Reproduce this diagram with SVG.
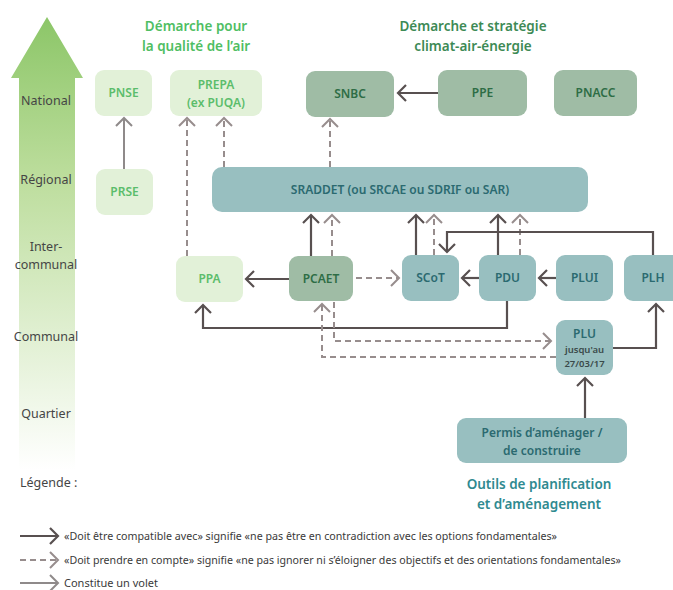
<svg xmlns="http://www.w3.org/2000/svg" width="673" height="590" viewBox="0 0 673 590">
<style>
text{font-family:"Noto Sans","Open Sans","Liberation Sans",sans-serif}
.lvl{font-size:12.5px;fill:#454545;text-anchor:middle}
.t{font-size:12px;font-weight:600;text-anchor:middle}
.lg{fill:#e2f1d8}.lgt{fill:#5bbd6b}
.mg{fill:#9fbca5}.mgt{fill:#2e6d45}
.tl{fill:#98bfc0}.tlt{fill:#2b6a70}
.s{fill:none;stroke:#585050;stroke-width:2.2}
.d{fill:none;stroke:#978d8d;stroke-width:2;stroke-dasharray:6 4}
.v{fill:none;stroke:#8f8a8a;stroke-width:2}
.leg{font-size:11px;fill:#3a3a3a}
.ti{font-size:13.5px;font-weight:600;text-anchor:middle}
</style>
<defs>
<linearGradient id="g" x1="0" y1="17" x2="0" y2="470" gradientUnits="userSpaceOnUse">
<stop offset="0" stop-color="#8cc668"/>
<stop offset="0.35" stop-color="#bcdd9c"/>
<stop offset="1" stop-color="#ffffff"/>
</linearGradient>
<marker id="as" markerUnits="userSpaceOnUse" markerWidth="18" markerHeight="20" refX="10" refY="9" orient="auto"><path d="M2,1 L10,9 L2,17" fill="none" stroke="#585050" stroke-width="2.2"/></marker>
<marker id="ad" markerUnits="userSpaceOnUse" markerWidth="18" markerHeight="20" refX="10" refY="9" orient="auto"><path d="M2,1 L10,9 L2,17" fill="none" stroke="#978d8d" stroke-width="2"/></marker>
<marker id="av" markerUnits="userSpaceOnUse" markerWidth="18" markerHeight="20" refX="10" refY="9" orient="auto"><path d="M2,1 L10,9 L2,17" fill="none" stroke="#8f8a8a" stroke-width="2"/></marker>
</defs>

<g id="scale">
<path d="M47,17 L83,78 L75,78 L75,470 L19,470 L19,78 L11,78 Z" fill="url(#g)"/>
<text class="lvl" x="46" y="105">National</text>
<text class="lvl" x="46" y="184">Régional</text>
<text class="lvl" x="46" y="251">Inter-</text>
<text class="lvl" x="46" y="269">communal</text>
<text class="lvl" x="46" y="341">Communal</text>
<text class="lvl" x="46" y="418">Quartier</text>
</g>

<g id="titles">
<text class="ti" x="196" y="31" fill="#4fbe63">Démarche pour</text>
<text class="ti" x="196" y="51" fill="#4fbe63">la qualité de l’air</text>
<text class="ti" x="473" y="31" fill="#3d8a55">Démarche et stratégie</text>
<text class="ti" x="473" y="51" fill="#3d8a55">climat-air-énergie</text>
<text class="ti" x="539" y="489" fill="#2f8a90">Outils de planification</text>
<text class="ti" x="539" y="509" fill="#2f8a90">et d’aménagement</text>
</g>

<g id="connectors">
<line class="s" x1="438" y1="93" x2="398" y2="93" marker-end="url(#as)"/>
<line class="v" x1="124" y1="169" x2="124" y2="118" marker-end="url(#av)"/>
<line class="d" x1="187" y1="256" x2="187" y2="118" marker-end="url(#ad)"/>
<line class="d" x1="224" y1="167" x2="224" y2="118" marker-end="url(#ad)"/>
<line class="d" x1="330" y1="167" x2="330" y2="119" marker-end="url(#ad)"/>
<line class="s" x1="289" y1="279" x2="246" y2="279" marker-end="url(#as)"/>
<line class="s" x1="311" y1="256" x2="311" y2="215" marker-end="url(#as)"/>
<line class="d" x1="332" y1="256" x2="332" y2="215" marker-end="url(#ad)"/>
<line class="d" x1="356" y1="278" x2="399" y2="278" marker-end="url(#ad)"/>
<line class="s" x1="416" y1="255" x2="416" y2="215" marker-end="url(#as)"/>
<line class="d" x1="434" y1="255" x2="434" y2="215" marker-end="url(#ad)"/>
<line class="s" x1="498" y1="255" x2="498" y2="215" marker-end="url(#as)"/>
<line class="d" x1="520" y1="255" x2="520" y2="215" marker-end="url(#ad)"/>
<path class="s" d="M653,255 V232 H447 V252" marker-end="url(#as)"/>
<line class="s" x1="479" y1="278" x2="462" y2="278" marker-end="url(#as)"/>
<line class="s" x1="556" y1="278" x2="539" y2="278" marker-end="url(#as)"/>
<path class="s" d="M507,301 V328 H203 V305" marker-end="url(#as)"/>
<path class="s" d="M613,348 H656 V304" marker-end="url(#as)"/>
<line class="s" x1="585" y1="418" x2="585" y2="378" marker-end="url(#as)"/>
<path class="d" d="M556,357 H322 V304" marker-end="url(#ad)"/>
<path class="d" d="M334,302 V341 H551" marker-end="url(#ad)"/>
</g>

<g id="PNSE"><rect class="lg" x="95" y="70" width="57" height="46" rx="9"/><text class="t lgt" x="123.5" y="97">PNSE</text></g>
<g id="PREPA"><rect class="lg" x="170" y="70" width="92" height="46" rx="9"/><text class="t lgt" x="216" y="89">PREPA</text><text class="t lgt" x="216" y="107">(ex PUQA)</text></g>
<g id="SNBC"><rect class="mg" x="306" y="71" width="88" height="46" rx="9"/><text class="t mgt" x="350" y="98">SNBC</text></g>
<g id="PPE"><rect class="mg" x="438" y="70" width="89" height="46" rx="9"/><text class="t mgt" x="482.5" y="97">PPE</text></g>
<g id="PNACC"><rect class="mg" x="554" y="70" width="83" height="46" rx="9"/><text class="t mgt" x="595.5" y="97">PNACC</text></g>
<g id="PRSE"><rect class="lg" x="96" y="169" width="57" height="46" rx="9"/><text class="t lgt" x="124.5" y="196">PRSE</text></g>
<g id="SRADDET"><rect class="tl" x="212" y="167" width="376" height="45" rx="10"/><text class="t tlt" x="400" y="194">SRADDET (ou SRCAE ou SDRIF ou SAR)</text></g>
<g id="PPA"><rect class="lg" x="176" y="256" width="67" height="46" rx="9"/><text class="t lgt" x="209.5" y="283">PPA</text></g>
<g id="PCAET"><rect class="mg" x="289" y="256" width="64" height="45" rx="9"/><text class="t mgt" x="321" y="283">PCAET</text></g>
<g id="SCoT"><rect class="tl" x="402" y="255" width="57" height="46" rx="9"/><text class="t tlt" x="430.5" y="282">SCoT</text></g>
<g id="PDU"><rect class="tl" x="479" y="255" width="57" height="46" rx="9"/><text class="t tlt" x="507.5" y="282">PDU</text></g>
<g id="PLUI"><rect class="tl" x="556" y="255" width="57" height="46" rx="9"/><text class="t tlt" x="584.5" y="282">PLUI</text></g>
<g id="PLH"><rect class="tl" x="624" y="255" width="58" height="46" rx="9"/><text class="t tlt" x="653" y="282">PLH</text></g>
<g id="PLU"><rect class="tl" x="556" y="320" width="57" height="55" rx="9"/><text class="t tlt" x="584.5" y="338">PLU</text><text x="584.5" y="353" font-size="9.5" font-weight="600" fill="#3a4a4a" text-anchor="middle">jusqu'au</text><text x="584.5" y="367" font-size="9.5" font-weight="600" fill="#3a4a4a" text-anchor="middle">27/03/17</text></g>
<g id="Permis"><rect class="tl" x="457" y="418" width="170" height="45" rx="9"/><text class="t tlt" x="542" y="437">Permis d’aménager /</text><text class="t tlt" x="542" y="455">de construire</text></g>

<g id="legend">
<text x="20" y="487" font-size="12.5" fill="#454545">Légende :</text>
<line class="s" x1="20" y1="536" x2="58" y2="536" marker-end="url(#as)"/>
<text class="leg" x="64" y="540" textLength="493" lengthAdjust="spacingAndGlyphs">«Doit être compatible avec» signifie «ne pas être en contradiction avec les options fondamentales»</text>
<line class="d" x1="20" y1="560" x2="58" y2="560" marker-end="url(#ad)"/>
<text class="leg" x="64" y="564" textLength="557" lengthAdjust="spacingAndGlyphs">«Doit prendre en compte» signifie «ne pas ignorer ni s’éloigner des objectifs et des orientations fondamentales»</text>
<line class="v" x1="20" y1="583" x2="58" y2="583" marker-end="url(#av)"/>
<text class="leg" x="64" y="587" textLength="94" lengthAdjust="spacingAndGlyphs">Constitue un volet</text>
</g>
</svg>
